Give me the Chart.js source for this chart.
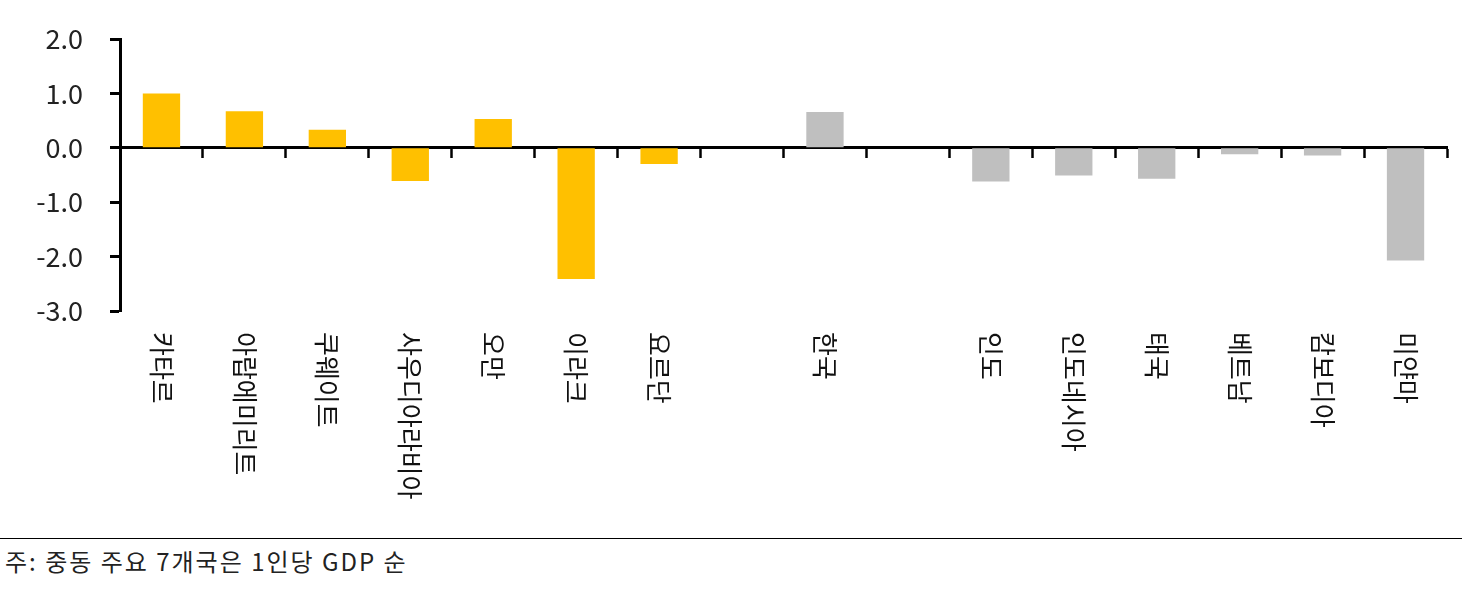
<!DOCTYPE html>
<html>
<head>
<meta charset="utf-8">
<script src="https://cdn.jsdelivr.net/npm/chart.js@4.4.1/dist/chart.umd.min.js"></script>
<style>
	html, body { margin: 0; padding: 0; background: #fff; }
	#wrap { position: relative; width: 1462px; height: 538px; }
	#note {
		border-top: 1.5px solid #000;
		width: 1462px;
		padding: 7px 0 0 5px;
		box-sizing: border-box;
		font-family: 'Noto Sans CJK KR', sans-serif;
		font-size: 24px;
		letter-spacing: 2px;
		color: #222;
		line-height: 30px;
	}
</style>
</head>
<body>
<div id="wrap"><canvas id="gapChart"></canvas></div>
<div id="note">주: 중동 주요 7개국은 1인당 GDP 순</div>
<script>
const categories = [
	'카타르', '아랍에미리트', '쿠웨이트', '사우디아라비아', '오만', '이라크', '요르단',
	'', '한국', '',
	'인도', '인도네시아', '태국', '베트남', '캄보디아', '미얀마',
];
const values = [
	1.0, 0.67, 0.33, -0.61, 0.53, -2.41, -0.30,
	null, 0.66, null,
	-0.62, -0.51, -0.57, -0.12, -0.14, -2.07,
];
const groups = [
	'me', 'me', 'me', 'me', 'me', 'me', 'me',
	'', 'asia', '',
	'asia', 'asia', 'asia', 'asia', 'asia', 'asia',
];
const yTicks = [2, 1, 0, -1, -2, -3];

const groupColors = { me: '#FFC000', asia: '#BFBFBF', '': '#FFFFFF' };
const labelFont = "'Noto Sans CJK KR', sans-serif";

// 카테고리 라벨: 시계방향 90도 회전
const verticalLabels = {
	id: 'verticalLabels',
	afterDraw(chart) {
		const { ctx, scales } = chart;
		const top = chart.chartArea.bottom + 21;
		ctx.save();
		ctx.font = `26px ${labelFont}`;
		ctx.fillStyle = '#111';
		ctx.textAlign = 'left';
		ctx.textBaseline = 'middle';
		categories.forEach((label, i) => {
			if (!label) return;
			const x = scales.x.getPixelForValue(i);
			ctx.save();
			ctx.translate(x, top);
			ctx.rotate(Math.PI / 2);
			ctx.fillText(label, 0, 0);
			ctx.restore();
		});
		ctx.restore();
	},
};

new Chart(document.getElementById('gapChart'), {
	type: 'bar',
	data: {
		labels: categories,
		datasets: [
			{
				data: values,
				backgroundColor: groups.map((g) => groupColors[g]),
				barPercentage: 0.45,
				categoryPercentage: 1,
			},
		],
	},
	options: {
		responsive: true,
		maintainAspectRatio: false,
		animation: false,
		layout: { padding: { top: 39, left: 0, right: 15, bottom: 227 } },
		plugins: {
			legend: { display: false },
			tooltip: { enabled: false },
		},
		scales: {
			x: {
				position: { y: 0 },
				offset: true,
				border: { display: true, color: '#000', width: 3 },
				grid: {
					display: true,
					offset: true,
					drawOnChartArea: false,
					drawTicks: true,
					tickLength: 9,
					tickColor: '#000',
					tickWidth: 2.5,
				},
				ticks: { display: false },
				afterFit(scale) {
					scale.height = 0;
				},
			},
			y: {
				min: -3,
				max: 2,
				afterBuildTicks(scale) {
					scale.ticks = yTicks.map((v) => ({ value: v }));
				},
				border: { display: true, color: '#000', width: 3 },
				grid: {
					drawOnChartArea: false,
					drawTicks: true,
					tickLength: 10,
					tickColor: '#000',
					tickWidth: 3,
				},
				ticks: {
					padding: 27,
					color: '#222',
					font: { family: labelFont, size: 27 },
					callback: (v) => Number(v).toFixed(1),
				},
				afterFit(scale) {
					scale.width = 120;
					scale.paddingTop = 0;
					scale.paddingBottom = 0;
				},
			},
		},
	},
	plugins: [verticalLabels],
});
</script>
</body>
</html>
